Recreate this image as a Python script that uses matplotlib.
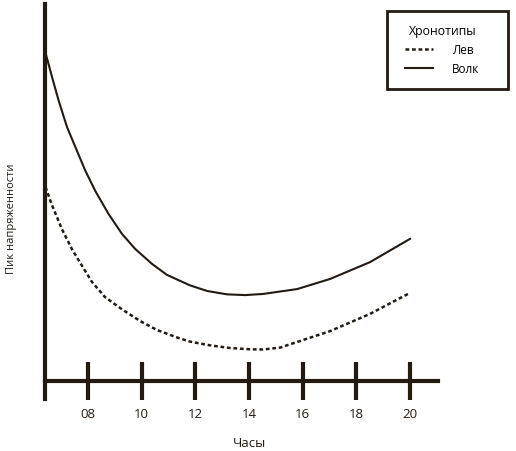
import matplotlib.pyplot as plt
from matplotlib.patches import Rectangle

# Data (hours, relative peak level)
hours_wolf = [6.41, 6.66, 6.91, 7.22, 7.53, 7.90, 8.27, 8.77, 9.27, 9.76, 10.39, 10.94,
              11.80, 12.44, 13.18, 13.85, 14.52, 15.79, 17.02, 18.51, 20.0]
peak_wolf = [87.7, 81.1, 74.7, 67.7, 62.4, 56.1, 50.7, 44.5, 39.2, 35.2, 31.2, 28.3,
             25.5, 24.0, 23.1, 22.9, 23.2, 24.5, 27.2, 31.7, 37.9]

hours_lion = [6.42, 6.66, 7.03, 7.40, 7.78, 8.15, 8.63, 9.27, 9.94, 10.57, 11.32, 11.80,
              12.55, 13.29, 14.04, 14.52, 15.16, 15.79, 17.02, 18.51, 20.0]
peak_lion = [51.7, 46.9, 40.5, 35.2, 30.7, 26.4, 22.4, 19.1, 16.0, 13.6, 11.6, 10.5,
             9.5, 8.8, 8.45, 8.4, 8.9, 10.4, 13.3, 17.9, 23.5]

tick_hours = [8, 10, 12, 14, 16, 18, 20]
tick_labels = ["08", "10", "12", "14", "16", "18", "20"]

ink = "#231a12"
plt.rcParams['font.family'] = ['Open Sans', 'DejaVu Sans']

fig = plt.figure(figsize=(5.16, 4.52), dpi=100)
ax = fig.add_axes([45 / 516, 1 - 400 / 452, 393 / 516, 395 / 452])

ax.plot(hours_lion, peak_lion, color=ink, lw=1.8, linestyle=(0, (1.5, 1.1)), label="Лев")
ax.plot(hours_wolf, peak_wolf, color=ink, lw=1.5, label="Волк")

ax.set_xlim(6.40, 21.04)
ax.set_ylim(-4.8, 100.5)

# axes styling
for side in ["top", "right"]:
    ax.spines[side].set_visible(False)
for side in ["left", "bottom"]:
    ax.spines[side].set_linewidth(3.0)
    ax.spines[side].set_color(ink)
ax.spines["bottom"].set_position(("data", 0))

ax.set_xticks(tick_hours)
ax.set_xticklabels(tick_labels)
ax.tick_params(axis="x", direction="inout", length=28, width=3.0, color=ink,
               labelsize=9.5, labelcolor=ink, pad=5)
ax.set_yticks([])

fig.text(250 / 516, 1 - 444 / 452, "Часы", ha="center", va="center", fontsize=9.5, color=ink)
fig.text(12 / 516, 1 - 219 / 452, "Пик напряженности", ha="center", va="center",
         rotation=90, fontsize=8, color=ink)

# legend without frame, box drawn separately
leg = ax.legend(title="Хронотипы", loc="upper left", bbox_to_anchor=(405 / 516, 1 - 25 / 452),
                bbox_transform=fig.transFigure, fontsize=8.5, title_fontsize=8.8,
                frameon=False, handlelength=2.4, borderpad=0, borderaxespad=0,
                labelspacing=0.5, handletextpad=1.6)
fig.patches.append(Rectangle((387 / 516, 1 - 90 / 452), 121 / 516, 78 / 452,
                             transform=fig.transFigure, fill=False, edgecolor=ink, lw=2.0))

fig.savefig("out.png", dpi=100)
